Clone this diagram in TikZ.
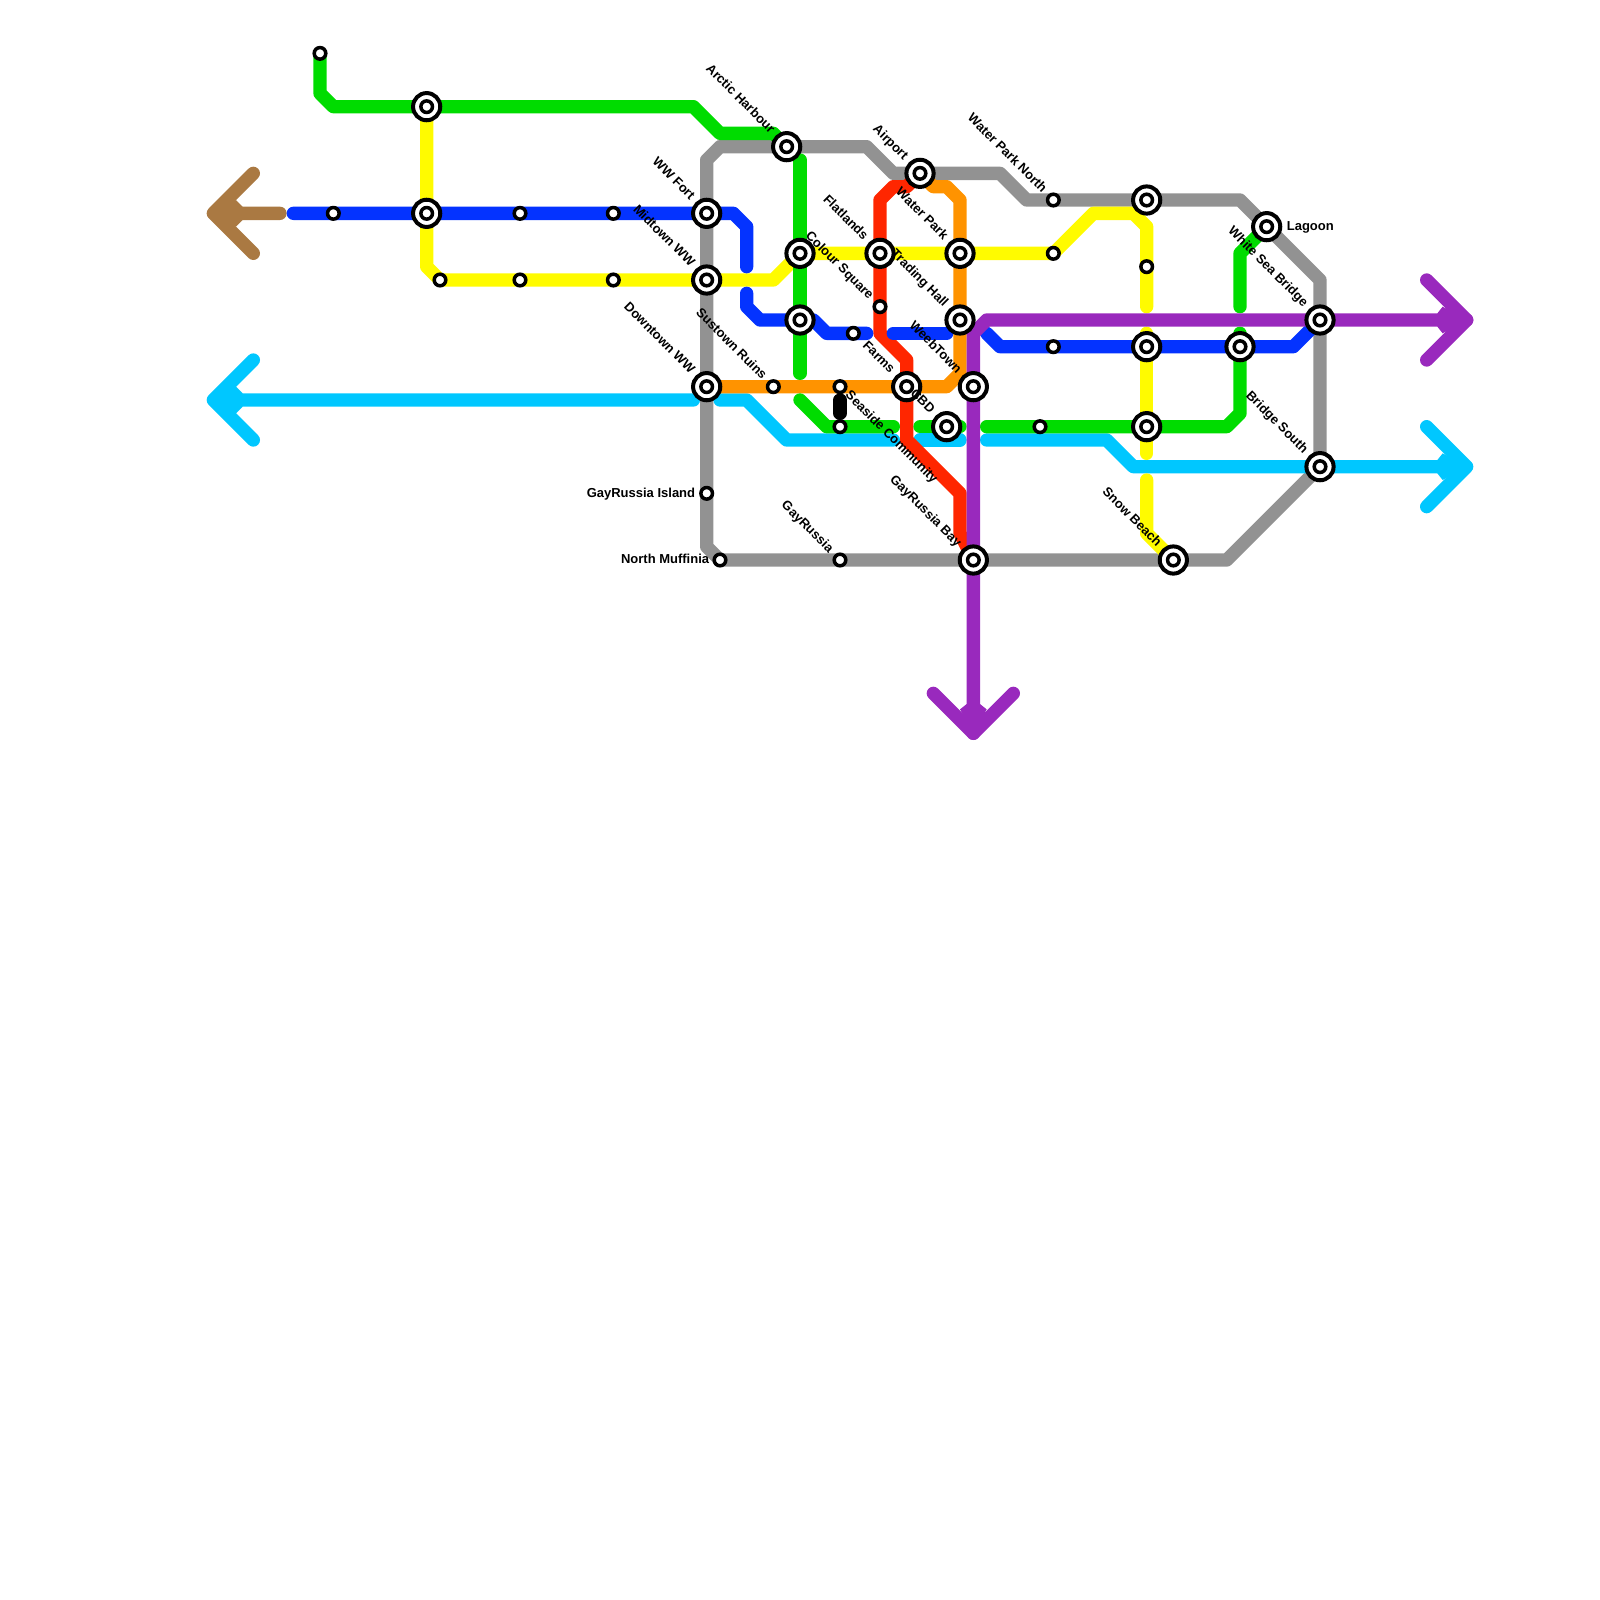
\documentclass[tikz,border=0pt]{standalone}
\usepackage{fontspec}
\setmainfont{Liberation Sans}
\definecolor{cgreen}{HTML}{00DC00}
\definecolor{cblue}{HTML}{0433FF}
\definecolor{cgray}{HTML}{929292}
\definecolor{cyellow}{HTML}{FFFB00}
\definecolor{corange}{HTML}{FF9300}
\definecolor{cred}{HTML}{FF2600}
\definecolor{cpurple}{HTML}{9929BD}
\definecolor{ccyan}{HTML}{00C7FF}
\definecolor{cbrown}{HTML}{AA7942}
\tikzset{
  lne/.style={line width=13.333pt,line cap=round,line join=round},
  ringst/.style={circle,draw=black,fill=white,line width=4pt,minimum size=27.2pt,inner sep=0pt,outer sep=0pt},
  dotst/.style={circle,draw=black,fill=white,line width=3.5pt,minimum size=11.6pt,inner sep=0pt,outer sep=0pt},
  txt/.style={font=\bfseries\fontsize{13}{13}\selectfont,inner sep=0pt,text height=0.72em,text depth=0.2em,text=black},
  labul/.style={txt,anchor=east,rotate=-45},
  labdr/.style={txt,anchor=west,rotate=-45},
  labl/.style={txt,anchor=east},
  labr/.style={txt,anchor=west}
}
\newcommand{\bigst}[1]{\node[ringst] (n#1) at (#1) {}; \node[dotst] (c#1) at (#1) {};}
\newcommand{\smallst}[1]{\node[dotst] (n#1) at (#1) {};}
\begin{document}
\begin{tikzpicture}[x=13.3333pt,y=-13.3333pt]
\useasboundingbox (0,0) rectangle (120,120);
% big interchange positions
\coordinate (a) at (32,8);
\coordinate (b) at (32,16);
\coordinate (wwfort) at (53,16);
\coordinate (midtown) at (53,21);
\coordinate (downtown) at (53,29);
\coordinate (arctic) at (59,11);
\coordinate (colour) at (60,19);
\coordinate (c2) at (60,24);
\coordinate (flat) at (66,19);
\coordinate (water) at (72,19);
\coordinate (trading) at (72,24);
\coordinate (airport) at (69,13);
\coordinate (farms) at (68,29);
\coordinate (weeb) at (73,29);
\coordinate (cbd) at (71,32);
\coordinate (bay) at (73,42);
\coordinate (d1) at (86,15);
\coordinate (d2) at (86,26);
\coordinate (d3) at (86,32);
\coordinate (e1) at (93,26);
\coordinate (lagoon) at (95,17);
\coordinate (white) at (99,24);
\coordinate (south) at (99,35);
\coordinate (snow) at (88,42);
% small stations
\coordinate (s1) at (24,4);
\coordinate (s2) at (25,16);
\coordinate (s3) at (39,16);
\coordinate (s4) at (46,16);
\coordinate (s5) at (33,21);
\coordinate (s6) at (39,21);
\coordinate (s7) at (46,21);
\coordinate (sustown) at (58,29);
\coordinate (seaside) at (63,29);
\coordinate (s8) at (63,32);
\coordinate (s9) at (64,25);
\coordinate (csq) at (66,23);
\coordinate (wpn) at (79,15);
\coordinate (s10) at (79,19);
\coordinate (s11) at (86,20);
\coordinate (s12) at (79,26);
\coordinate (s13) at (78,32);
\coordinate (island) at (53,37);
\coordinate (muff) at (54,42);
\coordinate (gayr) at (63,42);
% line ends
\coordinate (brownA) at (21,16);
\coordinate (brownT) at (16,16);
\coordinate (blueA) at (22,16);
\coordinate (blueB) at (56,20);
\coordinate (blueC) at (56,22);
\coordinate (blueD) at (65,25);
\coordinate (blueE) at (67,25);
\coordinate (blueF) at (71,25);
\coordinate (blueG) at (74,25);
\coordinate (cyT) at (16,30);
\coordinate (cyA) at (52,30);
\coordinate (cyB) at (54,30);
\coordinate (cyC) at (67,33);
\coordinate (cyD) at (69,33);
\coordinate (cyE) at (72,33);
\coordinate (cyF) at (74,33);
\coordinate (cyR) at (110,35);
\coordinate (grA) at (60,12);
\coordinate (grB) at (60,28);
\coordinate (grC) at (60,30);
\coordinate (grD) at (67,32);
\coordinate (grE) at (69,32);
\coordinate (grF) at (72,32);
\coordinate (grG) at (74,32);
\coordinate (grH) at (93,25);
\coordinate (grI) at (93,23);
\coordinate (yeA) at (86,23);
\coordinate (yeB) at (86,25);
\coordinate (yeC) at (86,34);
\coordinate (yeD) at (86,36);
\coordinate (puT) at (110,24);
\coordinate (puD) at (73,55);
\coordinate (bkA) at (63,30);
\coordinate (bkB) at (63,31);
% brown
\draw[lne,cbrown] (brownA) -- (brownT) (19,13) -- (brownT) -- (19,19);
\fill[cbrown] (brownT) -- (17.7,15) -- (18.2,15.5) -- (18.2,16.5) -- (17.7,17) -- cycle;
% gray
\draw[lne,cgray] (south) -- (99,21) -- (93,15) -- (d1) -- (wpn) -- (77,15) -- (75,13) -- (airport) -- (67,13) -- (65,11) -- (arctic) -- (54,11) -- (53,12) -- (wwfort) -- (midtown) -- (downtown) -- (island) -- (53,41) -- (muff) -- (gayr) -- (bay) -- (snow) -- (92,42) -- (south);
% cyan
\draw[lne,ccyan] (cyA) -- (cyT) (19,27) -- (cyT) -- (19,33);
\fill[ccyan] (cyT) -- (17.7,29) -- (18.2,29.5) -- (18.2,30.5) -- (17.7,31) -- cycle;
\draw[lne,ccyan] (cyB) -- (56,30) -- (59,33) -- (cyC);
\draw[lne,ccyan] (cyD) -- (cyE);
\draw[lne,ccyan] (cyF) -- (83,33) -- (85,35) -- (south) -- (cyR) (107,32) -- (cyR) -- (107,38);
\fill[ccyan] (cyR) -- (108.2,34) -- (107.8,34.5) -- (107.8,35.5) -- (108.2,36) -- cycle;
% red
\draw[lne,cred] (airport) -- (68,14) -- (67,14) -- (66,15) -- (flat) -- (csq) -- (66,25) -- (68,27) -- (farms) -- (68,33) -- (72,37) -- (72,40) -- (bay);
% orange
\draw[lne,corange] (downtown) -- (sustown) -- (seaside) -- (farms) -- (71,29) -- (72,28) -- (trading) -- (water) -- (72,15) -- (71,14) -- (70,14) -- (airport);
% yellow
\draw[lne,cyellow] (a) -- (b) -- (32,20) -- (s5) -- (s6) -- (s7) -- (midtown) -- (58,21) -- (colour) -- (flat) -- (water) -- (s10) -- (82,16) -- (85,16) -- (86,17) -- (s11) -- (yeA);
\draw[lne,cyellow] (yeB) -- (d2) -- (d3) -- (yeC);
\draw[lne,cyellow] (yeD) -- (86,40) -- (snow);
% green
\draw[lne,cgreen] (s1) -- (24,7) -- (25,8) -- (a) -- (52,8) -- (54,10) -- (58,10) -- (arctic);
\draw[lne,cgreen] (grA) -- (colour) -- (c2) -- (grB);
\draw[lne,cgreen] (grC) -- (62,32) -- (s8) -- (grD);
\draw[lne,cgreen] (grE) -- (cbd) -- (grF);
\draw[lne,cgreen] (grG) -- (s13) -- (d3) -- (92,32) -- (93,31) -- (e1) -- (grH);
\draw[lne,cgreen] (grI) -- (93,19) -- (lagoon);
% blue
\draw[lne,cblue] (blueA) -- (s2) -- (b) -- (s3) -- (s4) -- (wwfort) -- (55,16) -- (56,17) -- (blueB);
\draw[lne,cblue] (blueC) -- (56,23) -- (57,24) -- (c2) -- (61,24) -- (62,25) -- (s9) -- (blueD);
\draw[lne,cblue] (blueE) -- (blueF);
\draw[lne,cblue] (blueG) -- (75,26) -- (s12) -- (d2) -- (e1) -- (97,26) -- (white);
% purple
\draw[lne,cpurple] (puD) -- (bay) -- (weeb) -- (73,25) -- (74,24) -- (white) -- (puT);
\draw[lne,cpurple] (107,21) -- (puT) -- (107,27);
\fill[cpurple] (puT) -- (108.2,23) -- (107.8,23.5) -- (107.8,24.5) -- (108.2,25) -- cycle;
\draw[lne,cpurple] (70,52) -- (puD) -- (76,52);
\fill[cpurple] (puD) -- (72,53.2) -- (72.5,52.8) -- (73.5,52.8) -- (74,53.2) -- cycle;
% black link
\draw[lne,black] (bkA) -- (bkB);
% stations
\bigst{a}\bigst{b}\bigst{wwfort}\bigst{midtown}\bigst{downtown}\bigst{arctic}\bigst{colour}\bigst{c2}
\bigst{flat}\bigst{water}\bigst{trading}\bigst{airport}\bigst{farms}\bigst{weeb}\bigst{cbd}\bigst{bay}
\bigst{d1}\bigst{d2}\bigst{d3}\bigst{e1}\bigst{lagoon}\bigst{white}\bigst{south}\bigst{snow}
\smallst{s1}\smallst{s2}\smallst{s3}\smallst{s4}\smallst{s5}\smallst{s6}\smallst{s7}
\smallst{sustown}\smallst{seaside}\smallst{s8}\smallst{s9}\smallst{csq}\smallst{wpn}
\smallst{s10}\smallst{s11}\smallst{s12}\smallst{s13}\smallst{island}\smallst{muff}\smallst{gayr}
% labels
\path (wwfort) ++(-1.12,-1.08) node[labul] (t1) {WW Fort};
\path (midtown) ++(-1.12,-1.08) node[labul] (t2) {Midtown WW};
\path (downtown) ++(-1.12,-1.08) node[labul] (t3) {Downtown WW};
\path (arctic) ++(-1.12,-1.08) node[labul] (t4) {Arctic Harbour};
\path (csq) ++(-0.72,-0.62) node[labul] (t5) {Colour Square};
\path (flat) ++(-1.12,-1.08) node[labul] (t6) {Flatlands};
\path (water) ++(-1.12,-1.08) node[labul] (t7) {Water Park};
\path (trading) ++(-1.12,-1.08) node[labul] (t8) {Trading Hall};
\path (airport) ++(-1.12,-1.08) node[labul] (t9) {Airport};
\path (farms) ++(-1.12,-1.08) node[labul] (t10) {Farms};
\path (weeb) ++(-1.12,-1.08) node[labul] (t11) {WeebTown};
\path (cbd) ++(-1.12,-1.08) node[labul] (t12) {CBD};
\path (bay) ++(-1.12,-1.08) node[labul] (t13) {GayRussia Bay};
\path (gayr) ++(-0.72,-0.62) node[labul] (t14) {GayRussia};
\path (sustown) ++(-0.72,-0.62) node[labul] (t15) {Sustown Ruins};
\path (wpn) ++(-0.72,-0.62) node[labul] (t16) {Water Park North};
\path (white) ++(-1.12,-1.08) node[labul] (t17) {White Sea Bridge};
\path (south) ++(-1.12,-1.08) node[labul] (t18) {Bridge South};
\path (snow) ++(-1.12,-1.08) node[labul] (t19) {Snow Beach};
\path (seaside) ++(0.5,0.55) node[labdr] (t20) {Seaside Community};
\path (lagoon) ++(1.5,0.08) node[labr] (t21) {Lagoon};
\path (island) ++(-0.85,0.08) node[labl] (t22) {GayRussia Island};
\path (muff) ++(-0.8,0.08) node[labl] (t23) {North Muffinia};
\end{tikzpicture}
\end{document}
